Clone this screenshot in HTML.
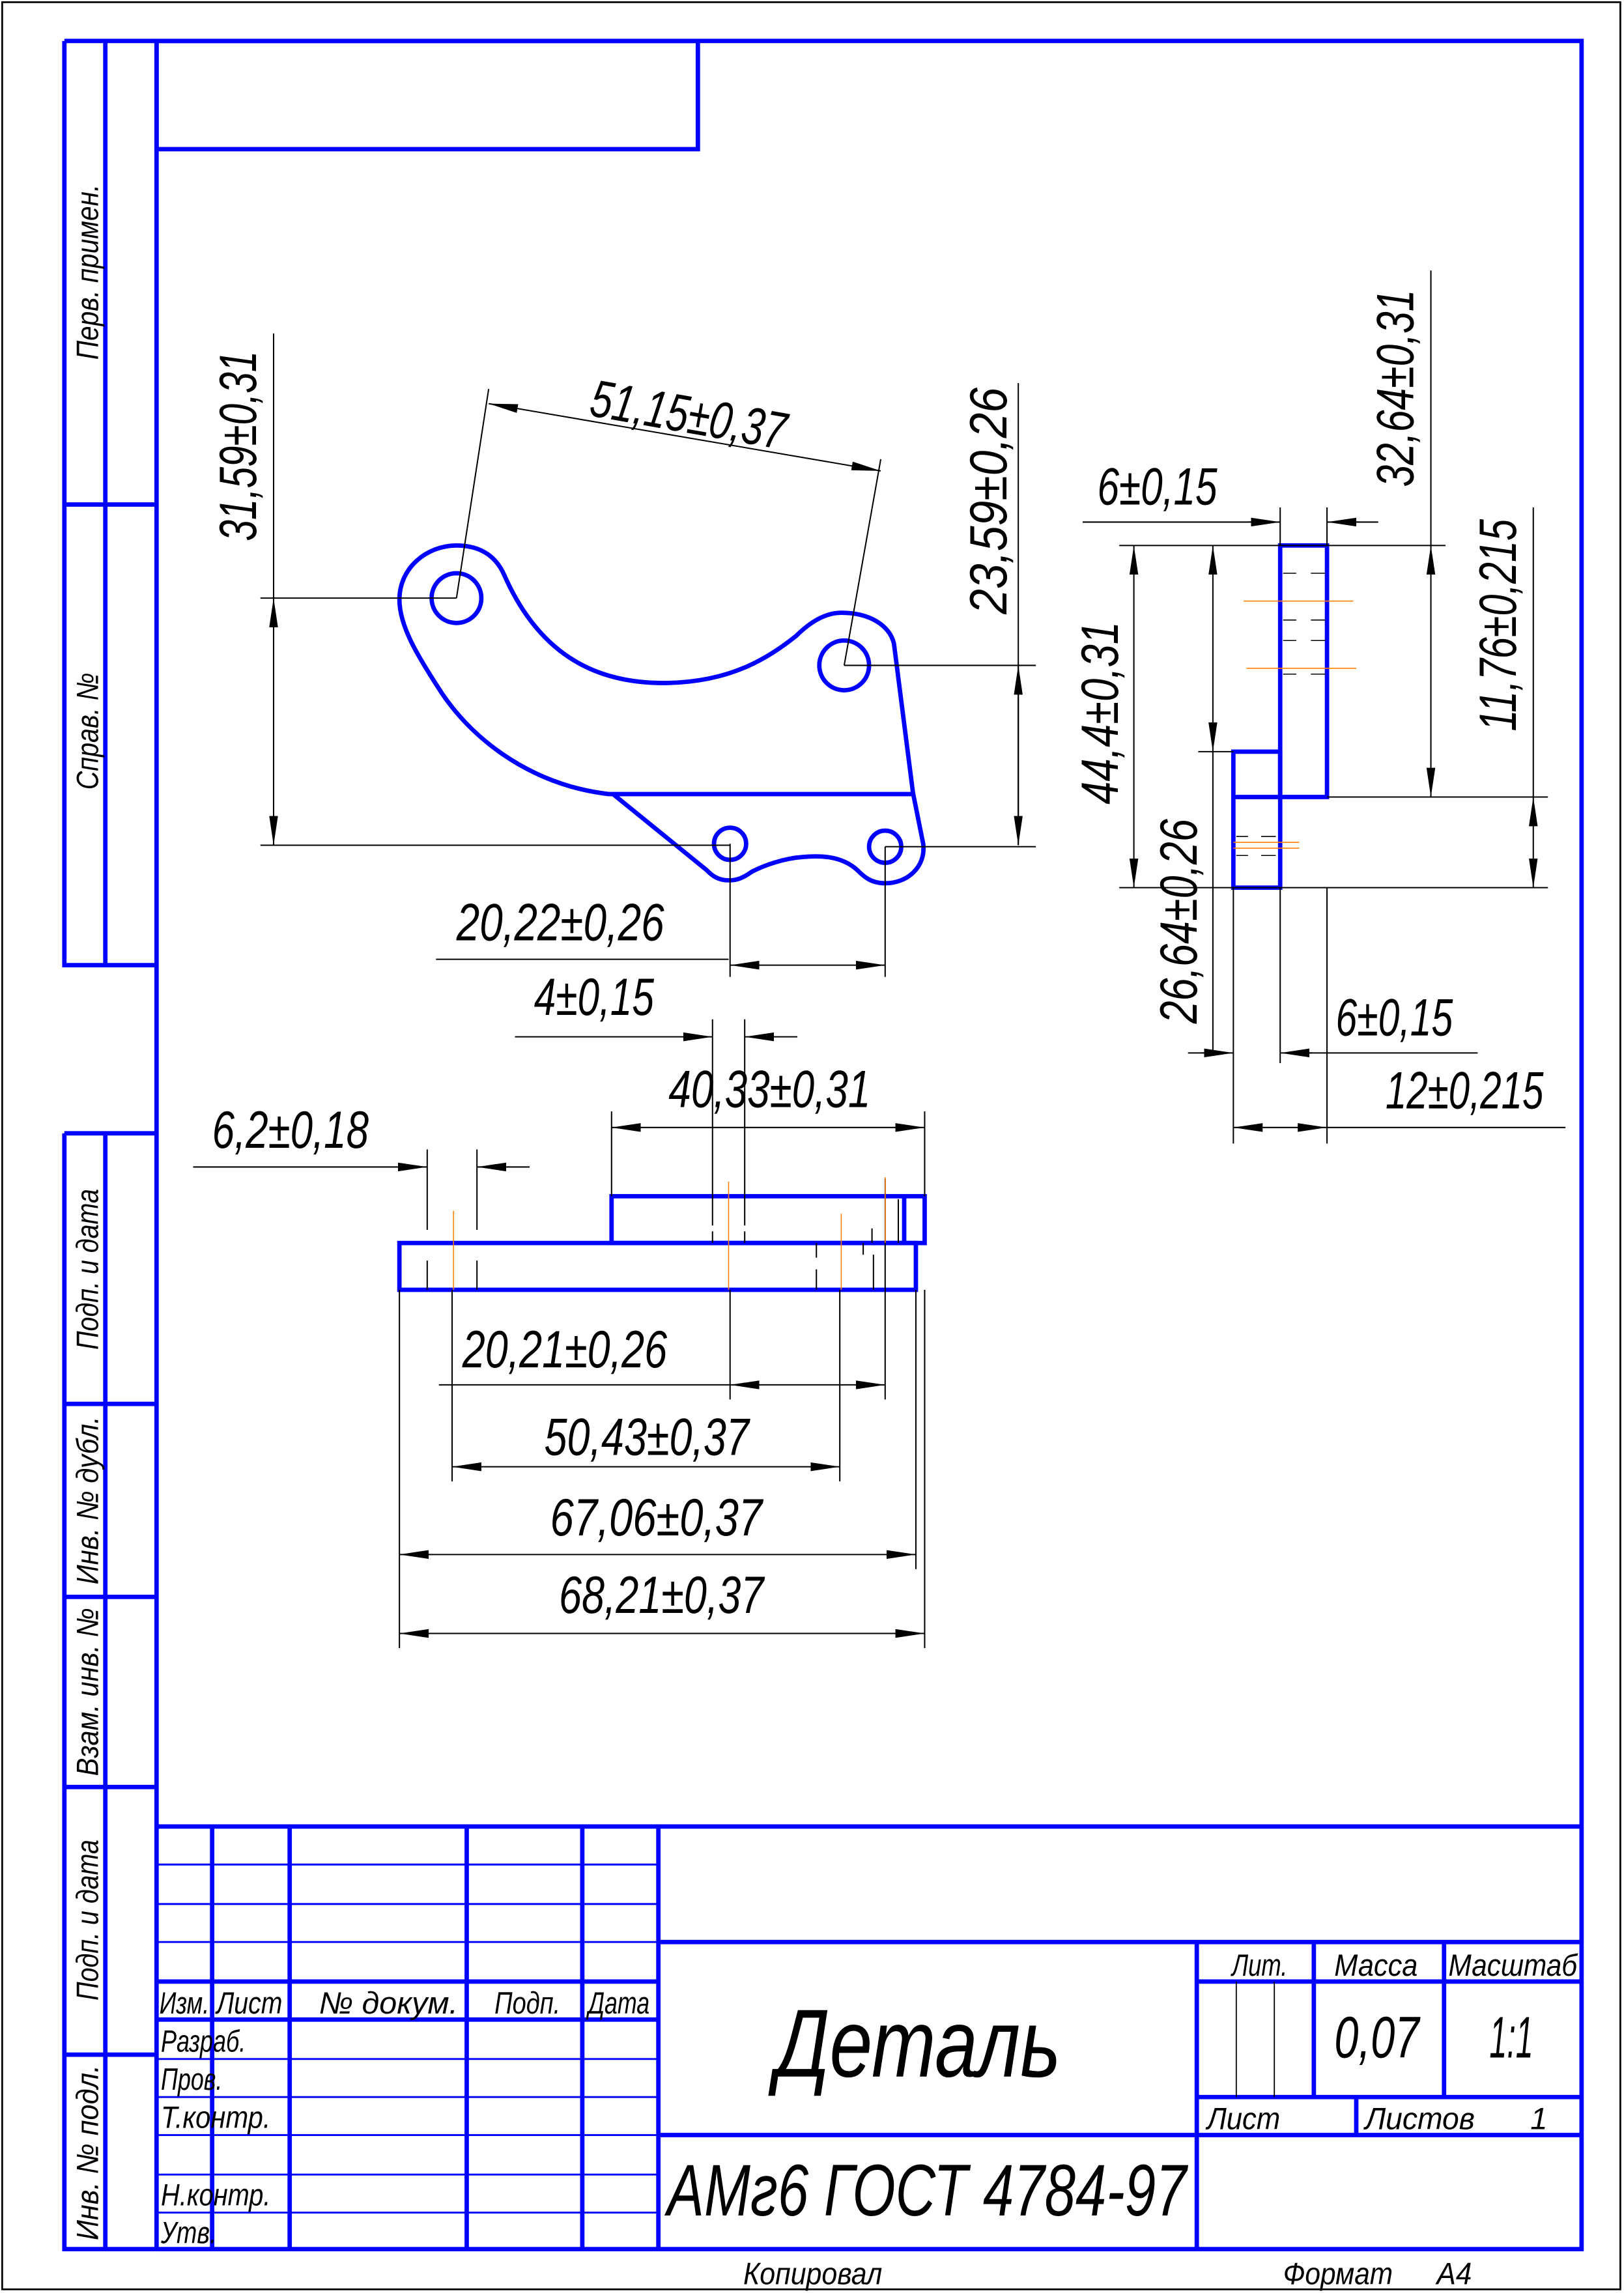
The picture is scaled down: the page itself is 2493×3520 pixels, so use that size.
<!DOCTYPE html>
<html><head><meta charset="utf-8"><style>html,body{margin:0;padding:0;background:#fff}svg{display:block}</style></head><body>
<svg xmlns="http://www.w3.org/2000/svg" width="2493" height="3520" viewBox="0 0 1110 1568" preserveAspectRatio="none">
<defs>
<marker id="a" viewBox="0 0 20 6" refX="20" refY="3" markerWidth="20" markerHeight="6" markerUnits="userSpaceOnUse" orient="auto-start-reverse"><path d="M0,0 L20,3 L0,6 Z" fill="#000"/></marker>
</defs>
<style>
.b{fill:none;stroke:#0000ff;stroke-width:3}
.t{fill:none;stroke:#000;stroke-width:0.9}
.o{stroke:#ff8000;stroke-width:0.7}
.d{marker-start:url(#a);marker-end:url(#a)}
.e{marker-end:url(#a)}
text{font-family:"Liberation Sans",sans-serif;font-style:italic;fill:#000}
.dt{font-size:36px}
.s{font-size:21px}
</style>
<rect x="1.5" y="1.5" width="1106" height="1564" fill="none" stroke="#000" stroke-width="1.2"/>
<rect class="b" x="107" y="28" width="974" height="1510"/>
<rect class="b" x="107" y="28" width="370" height="74"/>
<path class="b" d="M44,28 H107 M44,28 V660 H107 M72,28 V660 M44,345 H107 M44,775 H107 M44,775 V1538 H107 M72,775 V1538 M44,960 H107 M44,1092 H107 M44,1222 H107 M44,1405 H107"/>
<g class="s">
<text transform="translate(67,186) rotate(-90)" text-anchor="middle" textLength="120" lengthAdjust="spacingAndGlyphs">Перв. примен.</text>
<text transform="translate(67,500) rotate(-90)" text-anchor="middle" textLength="80" lengthAdjust="spacingAndGlyphs">Справ. №</text>
<text transform="translate(67,868) rotate(-90)" text-anchor="middle" textLength="110" lengthAdjust="spacingAndGlyphs">Подп. и дата</text>
<text transform="translate(67,1026) rotate(-90)" text-anchor="middle" textLength="115" lengthAdjust="spacingAndGlyphs">Инв. № дубл.</text>
<text transform="translate(67,1157) rotate(-90)" text-anchor="middle" textLength="115" lengthAdjust="spacingAndGlyphs">Взам. инв. №</text>
<text transform="translate(67,1313) rotate(-90)" text-anchor="middle" textLength="110" lengthAdjust="spacingAndGlyphs">Подп. и дата</text>
<text transform="translate(67,1472) rotate(-90)" text-anchor="middle" textLength="120" lengthAdjust="spacingAndGlyphs">Инв. № подл.</text>
</g>
<path class="b" d="M107,1249 H1081 M145,1249 V1538 M198,1249 V1538 M319,1249 V1538 M398,1249 V1538 M450,1249 V1538 M107,1355 H450 M107,1381 H450 M450,1328 H1081 M450,1460 H1081 M818,1328 V1538 M818,1355 H1081 M818,1434 H1081 M898,1328 V1434 M987,1328 V1434 M927,1434 V1460"/>
<path d="M107,1275 H450 M107,1302 H450 M107,1328 H450 M107,1408 H450 M107,1434 H450 M107,1460 H450 M107,1487 H450 M107,1513 H450" stroke="#0000ff" stroke-width="1.3"/>
<path d="M845,1355 V1434 M871,1355 V1434" stroke="#000" stroke-width="0.8"/>
<g class="s">
<text x="109" y="1377" textLength="34" lengthAdjust="spacingAndGlyphs">Изм.</text>
<text x="148" y="1377" textLength="45" lengthAdjust="spacingAndGlyphs">Лист</text>
<text x="218" y="1377" textLength="95" lengthAdjust="spacingAndGlyphs">№ докум.</text>
<text x="338" y="1377" textLength="45" lengthAdjust="spacingAndGlyphs">Подп.</text>
<text x="402" y="1377" textLength="42" lengthAdjust="spacingAndGlyphs">Дата</text>
<text x="110" y="1403" textLength="58" lengthAdjust="spacingAndGlyphs">Разраб.</text>
<text x="110" y="1429" textLength="42" lengthAdjust="spacingAndGlyphs">Пров.</text>
<text x="110" y="1455" textLength="75" lengthAdjust="spacingAndGlyphs">Т.контр.</text>
<text x="110" y="1508" textLength="75" lengthAdjust="spacingAndGlyphs">Н.контр.</text>
<text x="110" y="1534" textLength="38" lengthAdjust="spacingAndGlyphs">Утв.</text>
<text x="842" y="1351" textLength="38" lengthAdjust="spacingAndGlyphs">Лит.</text>
<text x="912" y="1351" textLength="57" lengthAdjust="spacingAndGlyphs">Масса</text>
<text x="990" y="1351" textLength="88" lengthAdjust="spacingAndGlyphs">Масштаб</text>
<text x="825" y="1456" textLength="50" lengthAdjust="spacingAndGlyphs">Лист</text>
<text x="933" y="1456" textLength="75" lengthAdjust="spacingAndGlyphs">Листов</text>
<text x="1046" y="1456">1</text>
<text x="508" y="1562" textLength="95" lengthAdjust="spacingAndGlyphs">Копировал</text>
<text x="877" y="1562" textLength="75" lengthAdjust="spacingAndGlyphs">Формат</text>
<text x="982" y="1562" textLength="24" lengthAdjust="spacingAndGlyphs">А4</text>
</g>
<text x="530" y="1420" font-size="66" textLength="195" lengthAdjust="spacingAndGlyphs">Деталь</text>
<text x="912" y="1407" font-size="40" textLength="58" lengthAdjust="spacingAndGlyphs">0,07</text>
<text x="1018" y="1407" font-size="40" textLength="30" lengthAdjust="spacingAndGlyphs">1:1</text>
<text x="456" y="1515" font-size="50" textLength="355" lengthAdjust="spacingAndGlyphs">АМг6 ГОСТ 4784-97</text>

<path class="b" d="M419,543 H623 M273,410 C273,388 292,373 312,373 C330,373 340,382 345,394 C370,450 410,468 457,467 C500,466 525,450 544,435 C555,424 565,419 575,419 C595,419 608,428 611,440 L624,542 L631,577 C633,593 620,604 605,604 C595,604 590,599 586,595 C575,585 560,585 549,586 C535,587 522,592 514,596 C507,601 503,602 498,602 C490,602 486,598 483,595 L419,543 L416,543 C365,537 325,508 302,474 C285,448 273,428 273,410 Z" stroke-linejoin="round"/>
<circle class="b" cx="312" cy="409" r="17"/>
<circle class="b" cx="577" cy="455" r="17"/>
<circle class="b" cx="499" cy="577" r="11"/>
<circle class="b" cx="605" cy="579" r="11"/>

<path class="t" d="M312,409 L334,266 M577,455 L602,314 M178,409 H312 M178,578 H499 M187,228 V578 M577,455 H708 M605,579 H708 M696,262 V578 M499,577 V668 M605,579 V668 M298,656 H498"/>
<path class="t d" d="M334,276 L602,322"/>
<path class="t d" d="M187,409 V578"/>
<path class="t d" d="M696,455 V578"/>
<path class="t d" d="M499,660 H605"/>
<text class="dt" transform="translate(402,284) rotate(10)" textLength="135" lengthAdjust="spacingAndGlyphs">51,15±0,37</text>
<text class="dt" transform="translate(175,370) rotate(-90)" textLength="130" lengthAdjust="spacingAndGlyphs">31,59±0,31</text>
<text class="dt" transform="translate(688,420) rotate(-90)" textLength="155" lengthAdjust="spacingAndGlyphs">23,59±0,26</text>
<text class="dt" x="312" y="643" textLength="142" lengthAdjust="spacingAndGlyphs">20,22±0,26</text>

<rect class="b" x="273" y="850" width="353" height="32"/>
<rect class="b" x="418" y="818" width="214" height="32"/>
<path class="b" d="M618,818 V850"/>
<path class="t" d="M292,786 V841 M326,786 V841 M292,862 V882 M326,862 V882 M487,697 V838 M509,697 V838 M487,842 V850 M509,842 V850 M418,760 V818 M632,760 V818 M596,840 V850 M614,820 V850 M590,850 V858 M597,858 V882 M558,850 V860 M558,868 V882 M499,882 V957 M605,806 V957 M309,882 V1013 M574,882 V1013 M273,882 V1127 M626,882 V1073 M632,882 V1127 M300,947 H499 M352,709 H475 M521,709 H545 M132,798 H280 M338,798 H362"/>
<path class="o" d="M310,828 V882 M498,808 V882 M575,830 V882 M605,805 V850"/>
<path class="t e" d="M470,709 H487"/><path class="t e" d="M527,709 H509"/>
<path class="t e" d="M272,798 H292"/><path class="t e" d="M346,798 H326"/>
<path class="t d" d="M418,771 H632"/>
<path class="t d" d="M499,947 H605"/>
<path class="t d" d="M309,1003 H574"/>
<path class="t d" d="M273,1063 H626"/>
<path class="t d" d="M273,1117 H632"/>
<text class="dt" x="365" y="694" textLength="82" lengthAdjust="spacingAndGlyphs">4±0,15</text>
<text class="dt" x="457" y="757" textLength="138" lengthAdjust="spacingAndGlyphs">40,33±0,31</text>
<text class="dt" x="145" y="785" textLength="107" lengthAdjust="spacingAndGlyphs">6,2±0,18</text>
<text class="dt" x="316" y="935" textLength="140" lengthAdjust="spacingAndGlyphs">20,21±0,26</text>
<text class="dt" x="372" y="995" textLength="140" lengthAdjust="spacingAndGlyphs">50,43±0,37</text>
<text class="dt" x="376" y="1050" textLength="145" lengthAdjust="spacingAndGlyphs">67,06±0,37</text>
<text class="dt" x="382" y="1103" textLength="140" lengthAdjust="spacingAndGlyphs">68,21±0,37</text>

<rect class="b" x="875" y="373" width="32" height="172"/>
<rect class="b" x="843" y="514" width="32" height="93"/>
<path class="b" d="M843,545 H875"/>
<path class="o" d="M850,411 H925 M852,457 H927 M843,576 H888 M843,580 H888"/>
<path d="M877,392 H886 M896,392 H906 M877,424 H886 M896,424 H906 M877,438 H886 M896,438 H906 M877,461 H886 M896,461 H906 M845,572 H853 M862,572 H872 M845,585 H853 M862,585 H872" stroke="#000" stroke-width="0.7"/>
<path class="t" d="M740,357 H857 M925,357 H942 M875,347 V373 M907,347 V373 M765,373 H988 M907,545 H1058 M765,607 H1058 M978,185 V373 M1048,347 V545 M819,514 H843 M829,514 V720 M843,607 V782 M875,607 V727 M907,607 V782 M812,720 H825 M893,720 H1010 M907,771 H1070"/>
<path class="t e" d="M853,357 H875"/><path class="t e" d="M929,357 H907"/>
<path class="t d" d="M978,373 V545"/>
<path class="t d" d="M1048,545 V607"/>
<path class="t d" d="M775,373 V607"/>
<path class="t d" d="M829,373 V514"/>
<path class="t e" d="M821,720 H843"/><path class="t e" d="M897,720 H875"/>
<path class="t d" d="M843,771 H907"/>
<text class="dt" x="750" y="345" textLength="82" lengthAdjust="spacingAndGlyphs">6±0,15</text>
<text class="dt" transform="translate(966,333) rotate(-90)" textLength="135" lengthAdjust="spacingAndGlyphs">32,64±0,31</text>
<text class="dt" transform="translate(1036,500) rotate(-90)" textLength="145" lengthAdjust="spacingAndGlyphs">11,76±0,215</text>
<text class="dt" transform="translate(764,550) rotate(-90)" textLength="125" lengthAdjust="spacingAndGlyphs">44,4±0,31</text>
<text class="dt" transform="translate(818,700) rotate(-90)" textLength="140" lengthAdjust="spacingAndGlyphs">26,64±0,26</text>
<text class="dt" x="913" y="708" textLength="80" lengthAdjust="spacingAndGlyphs">6±0,15</text>
<text class="dt" x="947" y="758" textLength="108" lengthAdjust="spacingAndGlyphs">12±0,215</text>
</svg>
</body></html>
